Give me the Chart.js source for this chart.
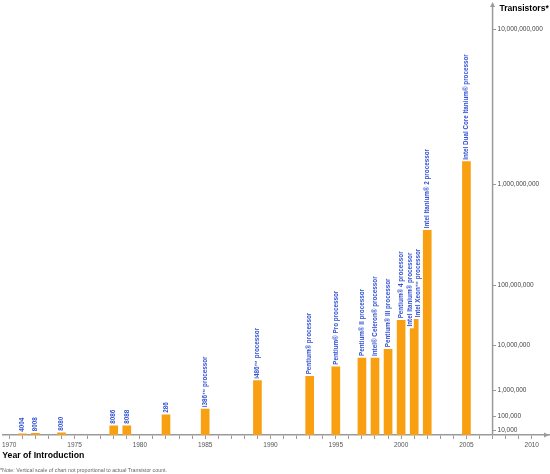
<!DOCTYPE html>
<html>
<head>
<meta charset="utf-8">
<script src="https://cdn.jsdelivr.net/npm/chart.js@4.4.1/dist/chart.umd.min.js"></script>
<style>
  html, body { margin: 0; padding: 0; background: #fff; }
  #wrap { width: 550px; height: 474px; }
</style>
</head>
<body>
<div id="wrap"><canvas id="chart" width="550" height="474"></canvas></div>
<script>
// Intel processors: year of introduction and transistor count
const years = [1971, 1972, 1974, 1978, 1979, 1982, 1985, 1989, 1993, 1995, 1997, 1998, 1999, 2000, 2001, 2001, 2002, 2005];
const transistors = [2300, 3500, 4500, 20000, 20000, 110000, 180000, 1600000, 2000000, 3300000, 5200000, 5200000, 8200000, 26000000, 19000000, 27000000, 350000000, 1400000000];
const processors = ["4004", "8008", "8080", "8086", "8088", "286", "i386™ processor", "i486™ processor",
  "Pentium® processor", "Pentium® Pro processor", "Pentium® II processor", "Intel® Celeron® processor",
  "Pentium® III processor", "Pentium® 4 processor", "Intel Itanium® processor", "Intel Xeon™ processor",
  "Intel Itanium® 2 processor", "Intel Dual Core Itanium® processor"];

const labelYears = [1970, 1975, 1980, 1985, 1990, 1995, 2000, 2005, 2010];
const transistorTicks = [10000, 100000, 1000000, 10000000, 100000000, 1000000000, 10000000000];

// the vertical scale is not proportional: each band gets its own height
// (0 -> 10,000, then one band per decade up to 10,000,000,000)
const bandHeights = [5, 14, 26, 44, 60, 100, 154];
const yAxisYear = 2007;

const FONT = "'Liberation Sans', Arial, Helvetica, sans-serif";
Chart.defaults.font.family = FONT;

function toUnits(v) {
  if (v <= 0) return 0;
  if (v <= 1e4) return v / 1e4 * bandHeights[0];
  let u = bandHeights[0];
  let lg = Math.log10(v) - 4;
  for (let i = 1; i < bandHeights.length && lg > 0; i++) {
    u += Math.min(lg, 1) * bandHeights[i];
    lg -= 1;
  }
  if (lg > 0) u += lg * bandHeights[bandHeights.length - 1];
  return u;
}

function fromUnits(u) {
  if (u <= bandHeights[0]) return u / bandHeights[0] * 1e4;
  let rest = u - bandHeights[0];
  let lg = 4;
  for (let i = 1; i < bandHeights.length; i++) {
    if (rest <= bandHeights[i]) return Math.pow(10, lg + rest / bandHeights[i]);
    rest -= bandHeights[i];
    lg += 1;
  }
  return Math.pow(10, lg + rest / bandHeights[bandHeights.length - 1]);
}

class BandLogScale extends Chart.LinearScale {
  buildTicks() {
    return transistorTicks.map(v => ({ value: v }));
  }
  getPixelForValue(value) {
    return this.getPixelForDecimal(toUnits(value) / toUnits(this.max));
  }
  getValueForPixel(pixel) {
    return fromUnits(this.getDecimalForPixel(pixel) * toUnits(this.max));
  }
}
BandLogScale.id = 'bandlog';
Chart.register(BandLogScale);

// years with two processors get two narrow bars side by side
const isPaired = years.map(y => years.filter(v => v === y).length > 1);
const point = i => ({ x: years[i], y: transistors[i], name: processors[i] });
const barStyle = { backgroundColor: '#f8a012', borderWidth: 0 };

const datasets = [Object.assign({
  data: years.map((_, i) => i).filter(i => !isPaired[i]).map(point),
  grouped: false,
  maxBarThickness: 8,
  categoryPercentage: 1,
  barPercentage: 1
}, barStyle)];
years.forEach((_, i) => {
  if (isPaired[i]) {
    datasets.push(Object.assign({ data: [point(i)], grouped: true, barThickness: 4 }, barStyle));
  }
});

const barLabels = {
  id: 'barLabels',
  afterDatasetsDraw(chart) {
    const ctx = chart.ctx;
    const xs = chart.scales.x;
    ctx.save();
    ctx.font = 'bold 6.3px ' + FONT;
    ctx.fillStyle = '#3352d4';
    ctx.textAlign = 'left';
    ctx.textBaseline = 'middle';
    chart.data.datasets.forEach((ds, d) => {
      chart.getDatasetMeta(d).data.forEach((bar, i) => {
        // spread the labels of side-by-side bars a little so they stay readable
        const shift = ds.grouped ? (bar.x - xs.getPixelForValue(ds.data[i].x)) * 0.8 : 0;
        ctx.save();
        ctx.translate(bar.x + shift, bar.y - 2);
        ctx.rotate(-Math.PI / 2);
        ctx.fillText(ds.data[i].name, 0, 0);
        ctx.restore();
      });
    });
    ctx.restore();
  }
};

const axes = {
  id: 'axes',
  afterDraw(chart) {
    const { ctx, chartArea } = chart;
    const x = chart.scales.x, y = chart.scales.y;
    const ax = x.getPixelForValue(yAxisYear);
    ctx.save();
    ctx.strokeStyle = '#9a9a9a';
    ctx.fillStyle = '#9a9a9a';
    ctx.lineWidth = 1.5;
    ctx.beginPath();
    ctx.moveTo(ax, chartArea.bottom);
    ctx.lineTo(ax, chartArea.top + 3);
    ctx.stroke();

    // arrow heads
    ctx.beginPath();
    ctx.moveTo(ax, chartArea.top);
    ctx.lineTo(ax - 2.5, chartArea.top + 5);
    ctx.lineTo(ax + 2.5, chartArea.top + 5);
    ctx.closePath();
    ctx.fill();
    ctx.beginPath();
    ctx.moveTo(chartArea.right, chartArea.bottom);
    ctx.lineTo(chartArea.right - 5, chartArea.bottom - 2.5);
    ctx.lineTo(chartArea.right - 5, chartArea.bottom + 2.5);
    ctx.closePath();
    ctx.fill();

    // transistor ticks on the right of the axis
    ctx.lineWidth = 1;
    ctx.font = '6.5px ' + FONT;
    ctx.textAlign = 'left';
    ctx.textBaseline = 'middle';
    transistorTicks.forEach(v => {
      const py = Math.round(y.getPixelForValue(v)) + 0.5;
      ctx.strokeStyle = '#9a9a9a';
      ctx.beginPath();
      ctx.moveTo(ax, py);
      ctx.lineTo(ax + 3.5, py);
      ctx.stroke();
      ctx.fillStyle = '#444';
      ctx.fillText(v.toLocaleString('en-US'), ax + 5, py);
    });

    ctx.fillStyle = '#000';
    ctx.font = 'bold 8.5px ' + FONT;
    ctx.fillText('Transistors*', ax + 7, chartArea.top + 7);
    ctx.restore();
  }
};

new Chart(document.getElementById('chart'), {
  type: 'bar',
  data: { datasets: datasets },
  options: {
    responsive: false,
    animation: false,
    layout: { autoPadding: false, padding: { top: 2, left: 0, right: 1, bottom: 0 } },
    scales: {
      x: {
        type: 'linear',
        offset: false,
        min: 1969.466,
        max: 2011.32,
        afterBuildTicks: s => {
          const t = [];
          for (let yr = labelYears[0]; yr <= labelYears[labelYears.length - 1]; yr++) t.push({ value: yr });
          s.ticks = t;
        },
        ticks: {
          autoSkip: false,
          maxRotation: 0,
          padding: 2,
          color: '#555',
          font: { size: 6.5 },
          callback: v => labelYears.includes(v) ? String(v) : ''
        },
        grid: { offset: false, drawOnChartArea: false, tickLength: 4, color: '#9a9a9a', lineWidth: 1 },
        border: { color: '#9a9a9a', width: 1.5 },
        title: {
          display: true,
          text: 'Year of Introduction',
          align: 'start',
          color: '#000',
          font: { size: 8.7, weight: 'bold' },
          padding: { top: 0, bottom: 1 }
        }
      },
      y: {
        type: 'bandlog',
        display: false,
        min: 0,
        max: 1.5e10
      }
    },
    plugins: {
      legend: { display: false },
      tooltip: { enabled: false },
      title: {
        display: true,
        position: 'bottom',
        align: 'start',
        text: '*Note: Vertical scale of chart not proportional to actual Transistor count.',
        color: '#666',
        font: { size: 5.3, weight: 'normal' },
        padding: { top: 5.4, bottom: 0 }
      }
    }
  },
  plugins: [barLabels, axes]
});
</script>
</body>
</html>
